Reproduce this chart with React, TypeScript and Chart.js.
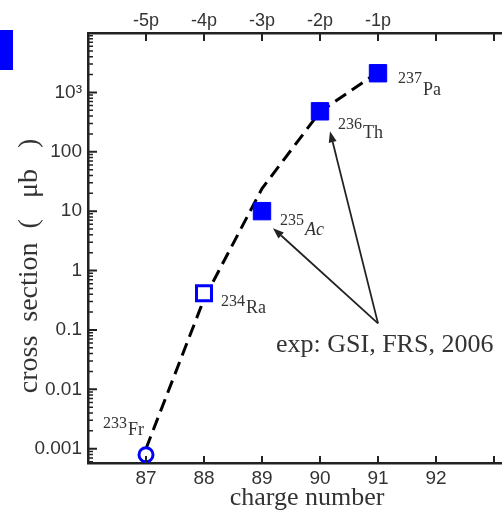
import { useEffect, useRef } from 'react';
import { Chart, registerables } from 'chart.js';

Chart.register(...registerables);

// ---- data ----
const theoryCharge = [87, 88, 89, 90, 91];
const theoryCross = [0.001, 0.33, 24, 470, 2200];

const expCharge = [89, 90, 91];
const expCross = [10, 480, 2100];

const raCharge = [88];
const raCross = [0.415];

const frCharge = [87];
const frCross = [0.00079];

const isotopeMass = ['233', '234', '235', '236', '237'];
const isotopeElement = ['Fr', 'Ra', 'Ac', 'Th', 'Pa'];
const isotopeCharge = [87, 88, 89, 90, 91];
const isotopeCross = [0.00079, 0.415, 10, 480, 2100];

const bottomTickValues = [87, 88, 89, 90, 91, 92, 93];
const bottomTickLabels = ['87', '88', '89', '90', '91', '92', ''];
const topTickLabels = ['-5p', '-4p', '-3p', '-2p', '-1p', '', ''];

const yTickValues = [0.001, 0.01, 0.1, 1, 10, 100, 1000, 10000];
const yTickLabels = ['0.001', '0.01', '0.1', '1', '10', '100', '10³', ''];

const xTitle = 'charge number';
const yTitle = 'cross  section  (   μb   )';
const noteText = 'exp: GSI, FRS, 2006';
const noteTargets = ['Ac', 'Th'];
const noteAnchor = { x: 91, y: 0.129 };

const X_MIN = 86;
const X_MAX = 93.138;
const Y_MIN = 0.000574;
const Y_MAX = 10000;

const SERIF = '"Liberation Serif", "Times New Roman", serif';
const SANS = '"Liberation Sans", Arial, sans-serif';

// label layout (pixel offsets from each isotope's marker)
const labelLayout: Record<string, { dx: number; dy: number; sub: number; italic?: boolean }> = {
  Fr: { dx: -43, dy: -27, sub: 7 },
  Ra: { dx: 17, dy: 12.5, sub: 7 },
  Ac: { dx: 18, dy: 14, sub: 10, italic: true },
  Th: { dx: 18, dy: 18, sub: 9 },
  Pa: { dx: 20, dy: 10, sub: 12 },
};
const arrowHeadOffset: Record<string, { dx: number; dy: number }> = {
  Ac: { dx: 11, dy: 17 },
  Th: { dx: 10, dy: 20 },
};

function drawArrow(ctx: CanvasRenderingContext2D, x0: number, y0: number, x1: number, y1: number) {
  const ang = Math.atan2(y1 - y0, x1 - x0);
  const len = 11;
  const hw = 4;
  const bx = x1 - len * Math.cos(ang);
  const by = y1 - len * Math.sin(ang);
  ctx.beginPath();
  ctx.moveTo(x0, y0);
  ctx.lineTo(bx, by);
  ctx.stroke();
  ctx.beginPath();
  ctx.moveTo(x1, y1);
  ctx.lineTo(bx + hw * Math.sin(ang), by - hw * Math.cos(ang));
  ctx.lineTo(bx - hw * Math.sin(ang), by + hw * Math.cos(ang));
  ctx.closePath();
  ctx.fill();
}

const decorPlugin = {
  id: 'decor',
  afterDraw(chart: any) {
    const ctx: CanvasRenderingContext2D = chart.ctx;
    const xs = chart.scales.x;
    const ys = chart.scales.y;
    const area = chart.chartArea;
    ctx.save();

    // inward tick marks
    ctx.strokeStyle = '#222';
    ctx.lineWidth = 2;
    ctx.beginPath();
    bottomTickValues.forEach((v) => {
      const px = xs.getPixelForValue(v);
      ctx.moveTo(px, area.top);
      ctx.lineTo(px, area.top + 8);
      ctx.moveTo(px, area.bottom);
      ctx.lineTo(px, area.bottom - 7);
    });
    yTickValues.forEach((v) => {
      const py = ys.getPixelForValue(v);
      if (py >= area.top - 1 && py <= area.bottom + 1) {
        ctx.moveTo(area.left, py);
        ctx.lineTo(area.left + 9, py);
      }
    });
    ctx.stroke();
    ctx.lineWidth = 1.5;
    ctx.beginPath();
    for (let d = -4; d <= 4; d++) {
      for (let m = 2; m <= 9; m++) {
        const v = m * Math.pow(10, d);
        if (v < Y_MIN || v > Y_MAX) continue;
        const py = ys.getPixelForValue(v);
        ctx.moveTo(area.left, py);
        ctx.lineTo(area.left + 5, py);
      }
    }
    ctx.stroke();

    // isotope labels
    ctx.fillStyle = '#333';
    ctx.textBaseline = 'alphabetic';
    ctx.textAlign = 'left';
    isotopeElement.forEach((el, i) => {
      const lay = labelLayout[el];
      const px = xs.getPixelForValue(isotopeCharge[i]) + lay.dx;
      const py = ys.getPixelForValue(isotopeCross[i]) + lay.dy;
      ctx.font = `16px ${SERIF}`;
      ctx.fillText(isotopeMass[i], px, py);
      const w = ctx.measureText(isotopeMass[i]).width;
      ctx.font = `${lay.italic ? 'italic ' : ''}18px ${SERIF}`;
      ctx.fillText(el, px + w + 1, py + lay.sub);
    });

    // arrows + note
    const ax = xs.getPixelForValue(noteAnchor.x);
    const ay = ys.getPixelForValue(noteAnchor.y);
    ctx.strokeStyle = '#222';
    ctx.fillStyle = '#222';
    ctx.lineWidth = 1.8;
    noteTargets.forEach((el) => {
      const i = isotopeElement.indexOf(el);
      const off = arrowHeadOffset[el];
      const hx = xs.getPixelForValue(isotopeCharge[i]) + off.dx;
      const hy = ys.getPixelForValue(isotopeCross[i]) + off.dy;
      drawArrow(ctx, ax, ay, hx, hy);
    });
    ctx.fillStyle = '#333';
    ctx.font = `26px ${SERIF}`;
    ctx.fillText(noteText, ax - 102, ay + 29);

    // axis titles
    ctx.font = `26px ${SERIF}`;
    ctx.textAlign = 'center';
    ctx.fillText(xTitle, 307, 505);
    ctx.save();
    ctx.font = `28px ${SERIF}`;
    ctx.translate(30, 266);
    ctx.rotate(-Math.PI / 2);
    ctx.textBaseline = 'middle';
    ctx.fillText(yTitle, 0, 0);
    ctx.restore();

    // cropped legend swatch at the left edge
    ctx.fillStyle = '#0000ff';
    ctx.fillRect(0, 30, 13, 40);

    ctx.restore();
  },
};

const zeroPad = (s: any) => {
  s.paddingLeft = 0;
  s.paddingRight = 0;
  s.paddingTop = 0;
  s.paddingBottom = 0;
};

export default function App() {
  const ref = useRef<HTMLCanvasElement | null>(null);

  useEffect(() => {
    document.body.style.margin = '0';
    if (!ref.current) return;
    const tickFont = { family: SANS, size: 19 };
    const chart = new Chart(ref.current, {
      type: 'scatter',
      data: {
        datasets: [
          {
            label: 'exp',
            data: expCharge.map((x, i) => ({ x, y: expCross[i] })),
            pointStyle: 'rect',
            pointRadius: 12.3,
            backgroundColor: '#0000ff',
            borderColor: '#0000ff',
            borderWidth: 1,
            showLine: false,
          },
          {
            label: 'Ra',
            data: raCharge.map((x, i) => ({ x, y: raCross[i] })),
            pointStyle: 'rect',
            pointRadius: 10.6,
            backgroundColor: '#ffffff',
            borderColor: '#0000ff',
            borderWidth: 3,
            showLine: false,
          },
          {
            label: 'Fr',
            data: frCharge.map((x, i) => ({ x, y: frCross[i] })),
            pointStyle: 'circle',
            pointRadius: 7,
            backgroundColor: '#ffffff',
            borderColor: '#0000ff',
            borderWidth: 3,
            showLine: false,
          },
          {
            label: 'theory',
            data: theoryCharge.map((x, i) => ({ x, y: theoryCross[i] })),
            showLine: true,
            borderColor: '#000000',
            borderWidth: 3,
            borderDash: [13, 7],
            pointRadius: 0,
            fill: false,
            tension: 0,
          },
        ],
      },
      options: {
        animation: false,
        responsive: false,
        events: [],
        layout: { padding: 0, autoPadding: false },
        plugins: { legend: { display: false }, tooltip: { enabled: false } },
        scales: {
          x: {
            type: 'linear',
            position: 'bottom',
            min: X_MIN,
            max: X_MAX,
            afterBuildTicks: (s: any) => {
              s.ticks = bottomTickValues.map((v) => ({ value: v }));
            },
            afterFit: (s: any) => {
              s.height = 47;
              zeroPad(s);
            },
            grid: { display: false, drawTicks: false },
            border: { display: true, color: '#222', width: 2.5 },
            ticks: {
              padding: 4,
              autoSkip: false,
              maxRotation: 0,
              font: tickFont,
              color: '#333',
              callback: (_v: any, i: number) => bottomTickLabels[i],
            },
          },
          x2: {
            type: 'linear',
            position: 'top',
            min: X_MIN,
            max: X_MAX,
            afterBuildTicks: (s: any) => {
              s.ticks = bottomTickValues.map((v) => ({ value: v }));
            },
            afterFit: (s: any) => {
              s.height = 33;
              zeroPad(s);
            },
            grid: { display: false, drawTicks: false },
            border: { display: true, color: '#222', width: 2.5 },
            ticks: {
              padding: 1,
              autoSkip: false,
              maxRotation: 0,
              font: { family: SANS, size: 18 },
              color: '#333',
              callback: (_v: any, i: number) => topTickLabels[i],
            },
          },
          y: {
            type: 'logarithmic',
            position: 'left',
            min: Y_MIN,
            max: Y_MAX,
            afterBuildTicks: (s: any) => {
              s.ticks = yTickValues.map((v) => ({ value: v }));
            },
            afterFit: (s: any) => {
              s.width = 88;
              zeroPad(s);
            },
            grid: { display: false, drawTicks: false },
            border: { display: true, color: '#222', width: 2.5 },
            ticks: {
              padding: 6,
              autoSkip: false,
              font: tickFont,
              color: '#333',
              callback: (_v: any, i: number) => yTickLabels[i],
            },
          },
        },
      } as any,
      plugins: [decorPlugin],
    });
    return () => chart.destroy();
  }, []);

  return (
    <div style={{ width: 502, height: 510, overflow: 'hidden', background: '#fff' }}>
      <canvas ref={ref} width={502} height={510} style={{ display: 'block', width: 502, height: 510 }} />
    </div>
  );
}
